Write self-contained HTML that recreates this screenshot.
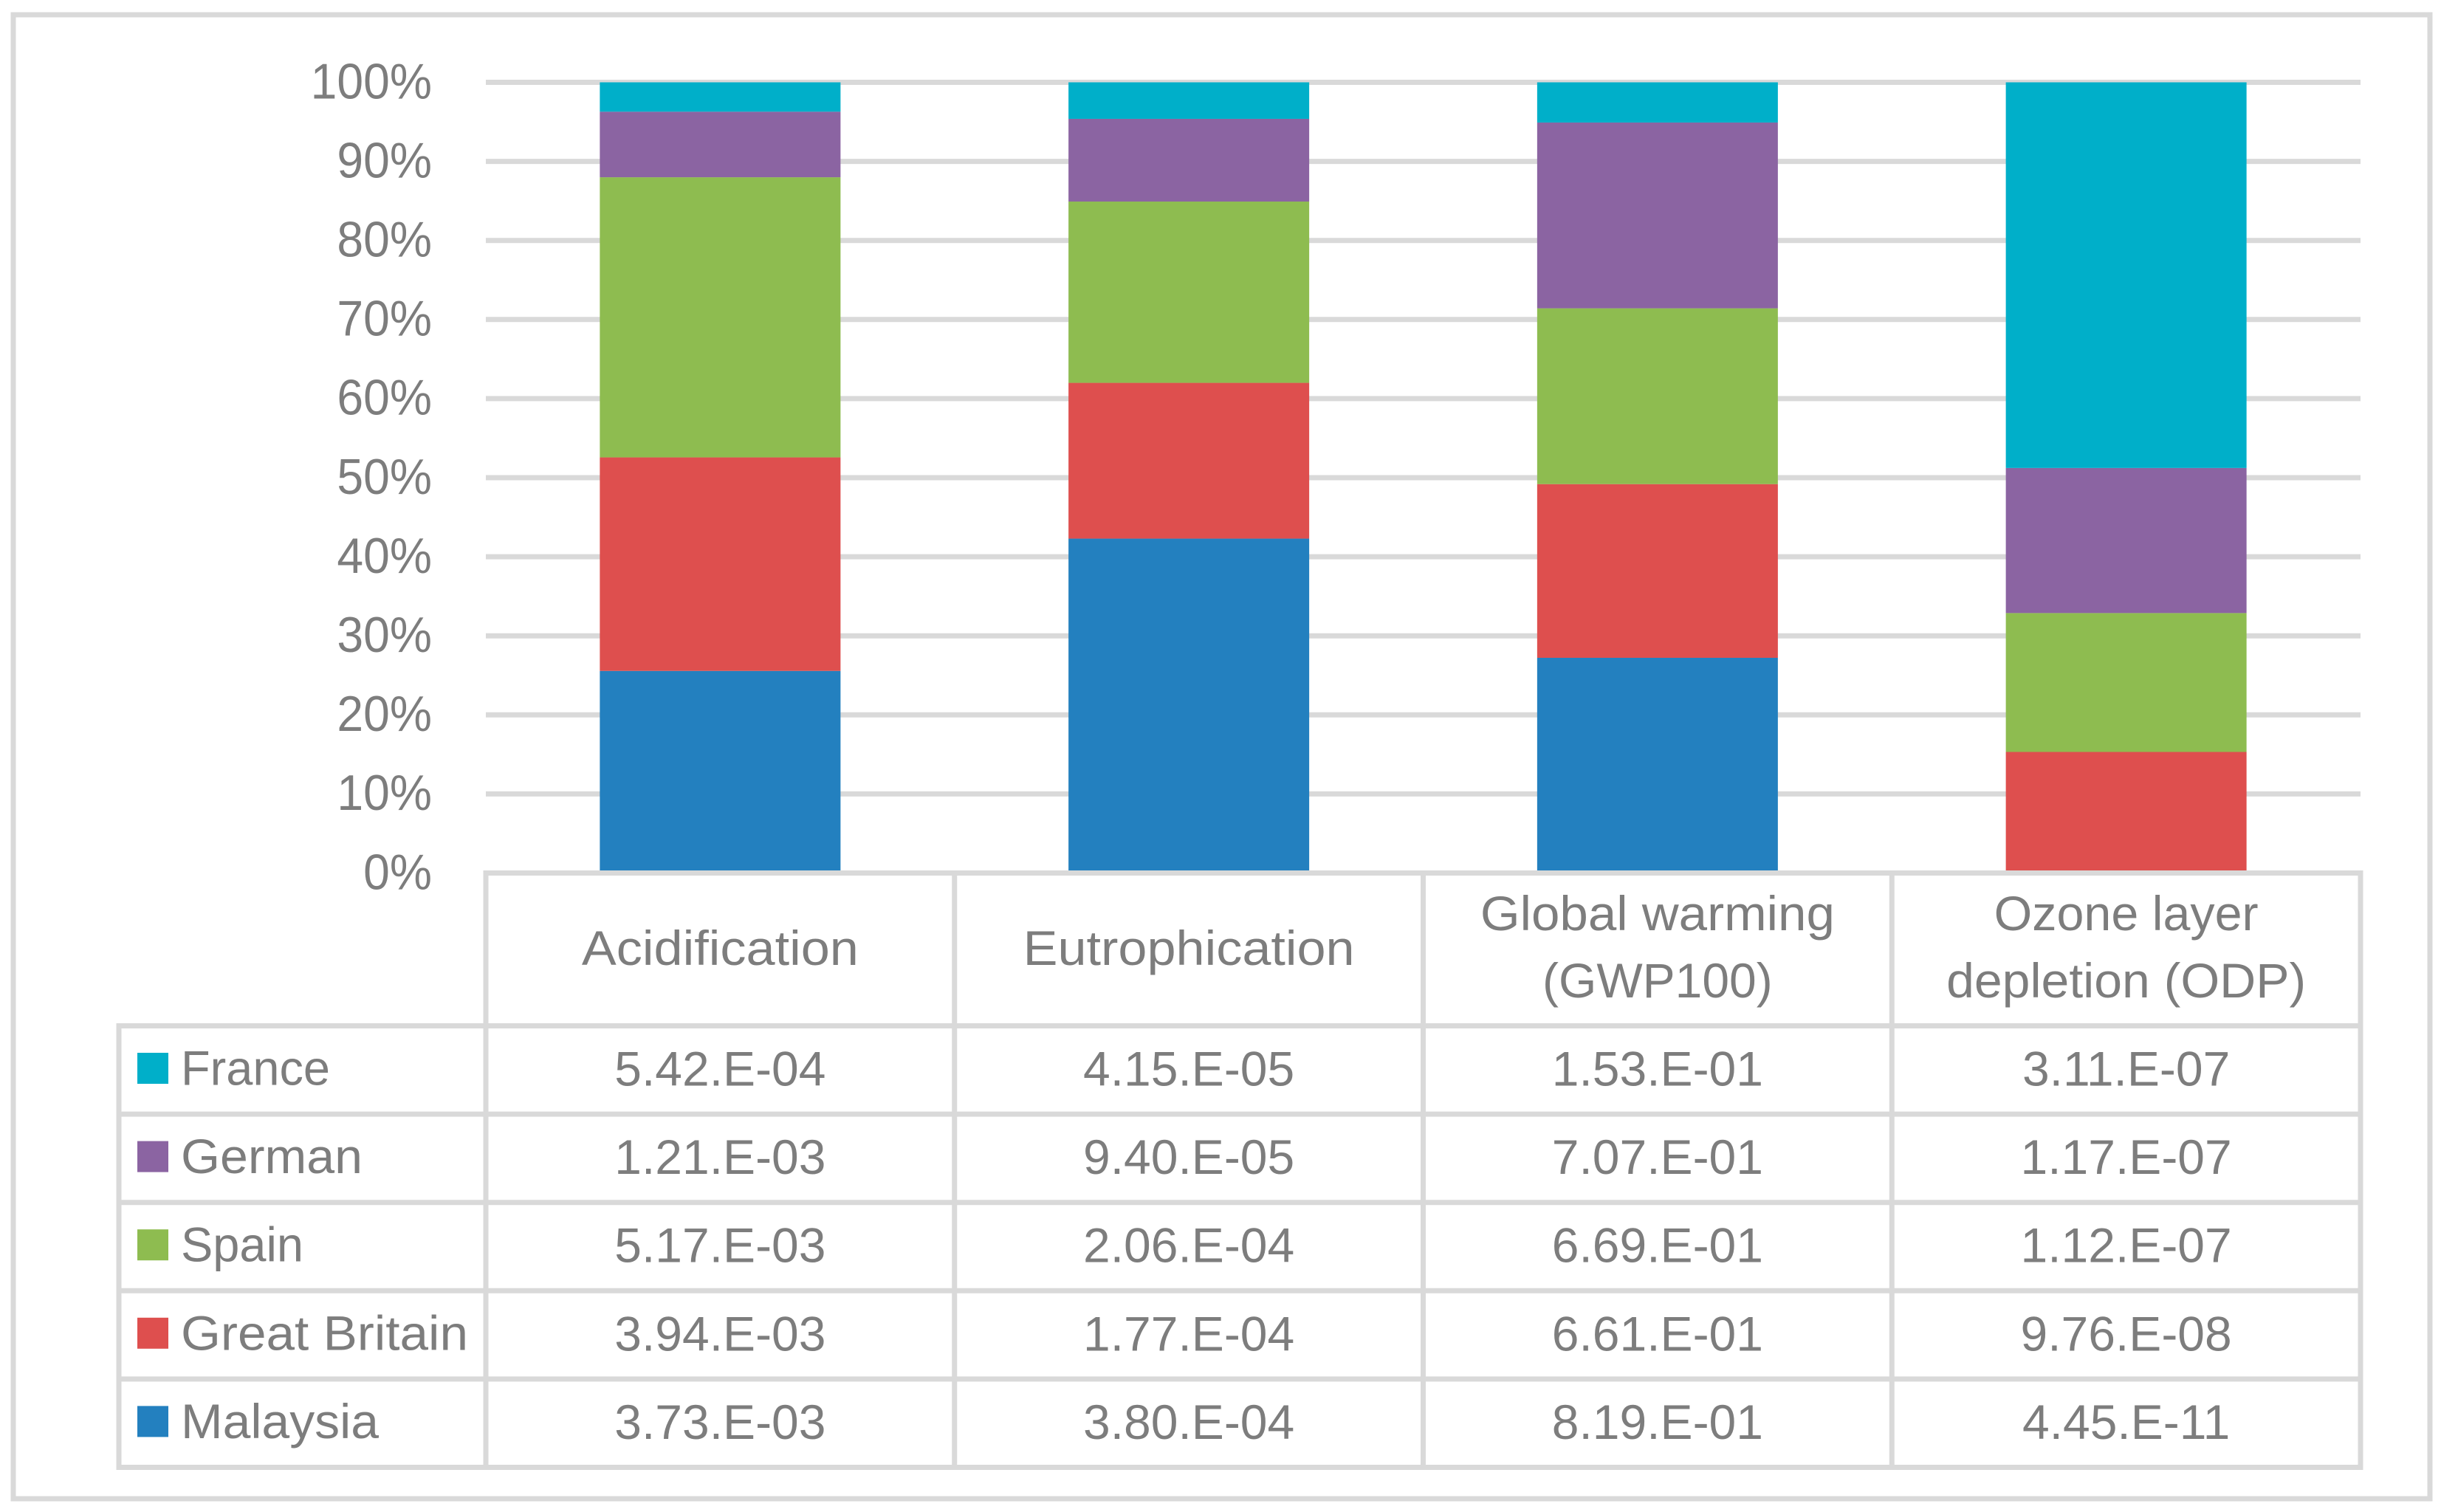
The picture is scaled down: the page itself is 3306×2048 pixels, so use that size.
<!DOCTYPE html>
<html lang="en">
<head>
<meta charset="utf-8">
<title>Stacked impact chart with data table</title>
<style>
html,body{margin:0;padding:0;background:#fff;width:3306px;height:2048px;overflow:hidden}
svg{display:block}
text{font-family:"Liberation Sans","DejaVu Sans",sans-serif;fill:#7d7d7d;font-size:66px}
</style>
</head>
<body>
<svg id="chart" xmlns="http://www.w3.org/2000/svg" width="3306" height="2048" viewBox="0 0 3306 2048">
<rect x="18" y="20" width="3273" height="2010" fill="#fff" stroke="#d9d9d9" stroke-width="7"/>
</svg>
<script>
const categories = [["Acidification"], ["Eutrophication"], ["Global warming", "(GWP100)"], ["Ozone layer", "depletion (ODP)"]];
const tickLabels = ["0%", "10%", "20%", "30%", "40%", "50%", "60%", "70%", "80%", "90%", "100%"];
const tickValues = [0, 10, 20, 30, 40, 50, 60, 70, 80, 90, 100];
const seriesNames = ["France", "German", "Spain", "Great Britain", "Malaysia"];
const seriesColors = ["#00afc9", "#8b64a2", "#8ebc50", "#de4f4e", "#2380bf"];
const franceValues = [5.42e-4, 4.15e-5, 1.53e-1, 3.11e-7];
const germanValues = [1.21e-3, 9.40e-5, 7.07e-1, 1.17e-7];
const spainValues = [5.17e-3, 2.06e-4, 6.69e-1, 1.12e-7];
const britainValues = [3.94e-3, 1.77e-4, 6.61e-1, 9.76e-8];
const malaysiaValues = [3.73e-3, 3.80e-4, 8.19e-1, 4.45e-11];
const franceLabels = ["5.42.E-04", "4.15.E-05", "1.53.E-01", "3.11.E-07"];
const germanLabels = ["1.21.E-03", "9.40.E-05", "7.07.E-01", "1.17.E-07"];
const spainLabels = ["5.17.E-03", "2.06.E-04", "6.69.E-01", "1.12.E-07"];
const britainLabels = ["3.94.E-03", "1.77.E-04", "6.61.E-01", "9.76.E-08"];
const malaysiaLabels = ["3.73.E-03", "3.80.E-04", "8.19.E-01", "4.45.E-11"];

const rowValues = [franceValues, germanValues, spainValues, britainValues, malaysiaValues];
const rowLabels = [franceLabels, germanLabels, spainLabels, britainLabels, malaysiaLabels];

const svg = document.getElementById('chart');
const NS = 'http://www.w3.org/2000/svg';
const plotLeft = 658, plotRight = 3197;
const y100 = 111.5, y0 = 1182.5;
const colW = (plotRight - plotLeft) / categories.length;
const barW = 326;
const tableLeft = 161, headTop = 1182.5, rowsTop = 1389.5, rowH = 119.6;
const LINE = '#d9d9d9', LW = 7;
const TICK_FONT = 68, TICK_SQUEEZE = 0.945;
// rendered widths that compensate for the substitute font's proportions
const fittedWidths = {
  "Acidification": 375, "Eutrophication": 449, "Global warming": 480, "Ozone layer": 358,
  "depletion (ODP)": 487, "France": 202, "German": 246, "Spain": 166, "Great Britain": 389, "Malaysia": 268
};

function yScale(pct) { return y0 - (y0 - y100) * pct / 100; }
function xCenter(i) { return plotLeft + colW * (i + 0.5); }
function make(tag, attrs) {
  const el = document.createElementNS(NS, tag);
  for (const k in attrs) el.setAttribute(k, attrs[k]);
  svg.appendChild(el);
  return el;
}
function fit(el, width) {
  el.setAttribute('textLength', width);
  el.setAttribute('lengthAdjust', 'spacingAndGlyphs');
}
function hLine(x1, x2, y) { return make('line', {x1: x1, x2: x2, y1: y, y2: y, stroke: LINE, 'stroke-width': LW}); }
function vLine(x, y1, y2) { return make('line', {x1: x, x2: x, y1: y1, y2: y2, stroke: LINE, 'stroke-width': LW}); }

// gridlines and y tick labels
tickValues.forEach(function (t, i) {
  const g = hLine(plotLeft, plotRight, yScale(t));
  
  
  const lab = make('text', {x: 585, y: yScale(t) + 21.8, 'text-anchor': 'end', 'font-size': TICK_FONT, style: 'font-size:' + TICK_FONT + 'px'});
  lab.textContent = tickLabels[i];
  
  
  fit(lab, lab.getComputedTextLength() * TICK_SQUEEZE);
});

// stacked bars (bottom to top: last row first)
categories.forEach(function (cat, c) {
  let total = 0;
  rowValues.forEach(function (r) { total += r[c]; });
  let cum = 0;
  for (let s = rowValues.length - 1; s >= 0; s--) {
    const pct = rowValues[s][c] / total * 100;
    const top = yScale(cum + pct), bottom = yScale(cum);
    const bar = make('rect', {x: xCenter(c) - barW / 2, y: top, width: barW, height: bottom - top, fill: seriesColors[s]});
    
    
    cum += pct;
  }
});

// data table lines
const topLine = hLine(plotLeft - LW / 2, plotRight + LW / 2, headTop);


for (let r = 0; r <= seriesNames.length; r++) {
  const l = hLine(tableLeft - LW / 2, plotRight + LW / 2, rowsTop + r * rowH);
  
  
}
const leftLine = vLine(tableLeft, rowsTop, rowsTop + rowH * seriesNames.length);


for (let c = 0; c <= categories.length; c++) {
  const l = vLine(plotLeft + c * colW, headTop, rowsTop + rowH * seriesNames.length);
  
  
}

// header labels
categories.forEach(function (cat, c) {
  const baselines = cat.length === 1 ? [1307] : [1260, 1351];
  cat.forEach(function (line, k) {
    const t = make('text', {x: xCenter(c), y: baselines[k], 'text-anchor': 'middle'});
    t.textContent = line;
    
    
    if (fittedWidths[line]) fit(t, fittedWidths[line]);
  });
});

// rows: legend key, name, values
seriesNames.forEach(function (name, r) {
  const top = rowsTop + r * rowH;
  const slug = name.toLowerCase().replace(' ', '-');
  const key = make('rect', {x: 186, y: top + 36.5, width: 42, height: 42, fill: seriesColors[r]});
  
  
  const lab = make('text', {x: 245, y: top + 80});
  lab.textContent = name;
  
  
  fit(lab, fittedWidths[name]);
  rowLabels[r].forEach(function (v, c) {
    const t = make('text', {x: xCenter(c), y: top + 81, 'text-anchor': 'middle'});
    t.textContent = v;
    
    
  });
});
</script>
</body>
</html>
